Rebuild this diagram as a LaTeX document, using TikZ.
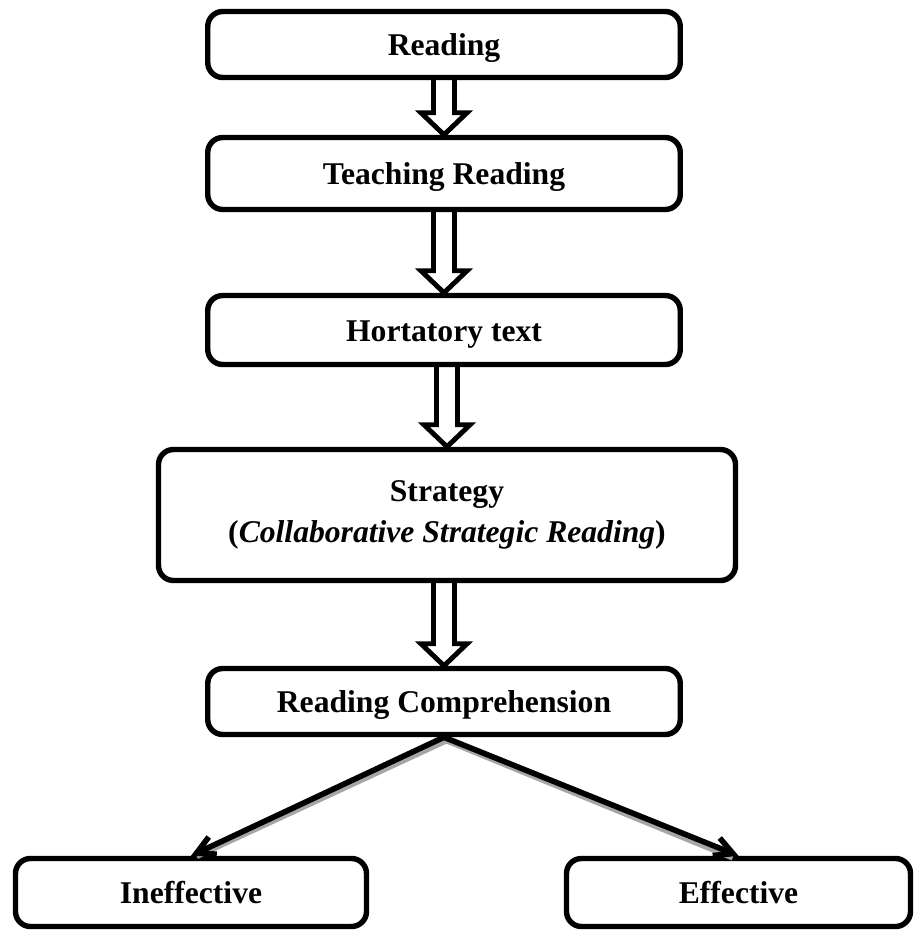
\documentclass[tikz,border=0pt]{standalone}
\usepackage{fontspec}
\setmainfont{Liberation Serif}
\usetikzlibrary{arrows.meta,positioning,calc}
\definecolor{Ink}{HTML}{000000}
\definecolor{Shade}{HTML}{A6A6A6}
\tikzset{flowbox/.style={rectangle,rounded corners=0.3cm,draw=Ink,line width=3.1pt,fill=white,minimum width=9.45cm,minimum height=1.38cm,text height=0.6cm,text depth=0.16cm,align=center,text=Ink,font=\fontsize{18}{23}\selectfont\bfseries},blockarrow/.style={draw=Ink,line width=2.8pt,line join=miter},branch/.style={draw=Ink,line width=3.2pt,-{Straight Barb[length=3.6mm,width=3.8mm]}},branchshadow/.style={draw=Shade,line width=2.6pt}}
\newcommand{\downblock}[2]{\draw[blockarrow] ($(#1.south -| #2.north)+(-0.21,0)$) -- ($(#2.north)+(-0.21,0.44)$) -- ($(#2.north)+(-0.46,0.44)$) -- (#2.north) -- ($(#2.north)+(0.46,0.44)$) -- ($(#2.north)+(0.21,0.44)$) -- ($(#1.south -| #2.north)+(0.21,0)$);}

\begin{document}
\begin{tikzpicture}[x=1cm,y=1cm]
\useasboundingbox (0,0) rectangle (18.3,-18.62);
\node[flowbox,minimum height=1.32cm] (Reading) at (8.88,-0.89) {Reading};\node[flowbox,minimum height=1.44cm] (Teaching) at (8.88,-3.47) {Teaching Reading};\node[flowbox] (Hortatory) at (8.88,-6.6) {Hortatory text};\node[flowbox,text height=,text depth=,minimum width=11.54cm,minimum height=2.62cm] (Strategy) at (8.94,-10.3) {Strategy\\(\textit{Collaborative Strategic Reading})};\node[flowbox,minimum height=1.32cm] (Comprehension) at (8.88,-14.03) {Reading Comprehension};
\node[flowbox,minimum width=7.02cm,minimum height=1.36cm] (Ineffective) at (3.82,-17.85) {Ineffective};\node[flowbox,minimum width=6.88cm,minimum height=1.36cm] (Effective) at (14.77,-17.85) {Effective};
\downblock{Reading}{Teaching}\downblock{Teaching}{Hortatory}\downblock{Hortatory}{Strategy}\downblock{Strategy}{Comprehension}
\draw[branchshadow] ([shift={(0.07,-0.07)}]Comprehension.south) -- ([shift={(0.12,-0.02)}]Ineffective.north);\draw[branchshadow] ([shift={(0.05,-0.08)}]Comprehension.south) -- ([shift={(-0.12,-0.05)}]Effective.north);
\draw[branch] (Comprehension.south) -- (Ineffective.north);\draw[branch] (Comprehension.south) -- (Effective.north);
\end{tikzpicture}
\end{document}
